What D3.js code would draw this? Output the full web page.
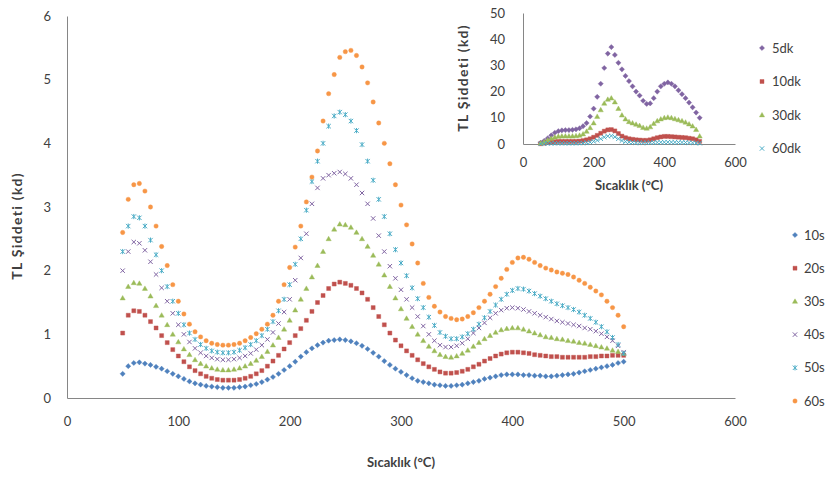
<!DOCTYPE html>
<html>
<head>
<meta charset="utf-8">
<script src="https://cdn.jsdelivr.net/npm/d3@7"></script>
<style>
  body { margin: 0; background: #fff; }
  text { font-family: Lato, "Open Sans", sans-serif; fill: #404040; }
  .axis text { font-size: 13px; }
  .axis path { stroke: #868686; }
  .title { font-size: 13px; font-weight: bold; }
  .ytitle { font-size: 14px; font-weight: bold; letter-spacing: 1.3px; }
  .legend text { font-size: 13px; }
</style>
</head>
<body>
<svg id="chart" width="826" height="479"></svg>
<script>
// temperature steps of the main chart (°C)
var temps = d3.range(50, 501, 5);

var s10 = [0.38,0.5,0.55,0.56,0.54,0.52,0.49,0.46,0.42,0.38,
  0.34,0.3,0.26,0.23,0.21,0.19,0.18,0.17,0.16,0.16,
  0.16,0.17,0.18,0.2,0.22,0.25,0.29,0.33,0.38,0.44,
  0.5,0.57,0.65,0.72,0.78,0.83,0.87,0.9,0.91,0.92,
  0.91,0.89,0.86,0.82,0.77,0.71,0.65,0.58,0.52,0.46,
  0.41,0.36,0.31,0.27,0.25,0.23,0.21,0.2,0.19,0.19,
  0.2,0.21,0.23,0.25,0.27,0.3,0.32,0.34,0.36,0.37,
  0.37,0.37,0.36,0.36,0.35,0.35,0.34,0.34,0.35,0.36,
  0.37,0.38,0.4,0.42,0.44,0.46,0.48,0.5,0.52,0.55,0.57];
var s20 = [1.02,1.3,1.37,1.36,1.3,1.2,1.1,0.98,0.87,0.76,
  0.66,0.57,0.49,0.43,0.38,0.34,0.31,0.29,0.28,0.28,
  0.28,0.29,0.31,0.34,0.38,0.43,0.5,0.58,0.67,0.77,
  0.87,0.98,1.09,1.22,1.36,1.5,1.61,1.72,1.79,1.82,
  1.8,1.77,1.72,1.65,1.55,1.42,1.28,1.15,1.02,0.91,
  0.82,0.74,0.67,0.6,0.54,0.49,0.45,0.41,0.39,0.39,
  0.4,0.42,0.45,0.49,0.53,0.58,0.62,0.66,0.69,0.71,
  0.72,0.72,0.71,0.7,0.68,0.67,0.66,0.65,0.65,0.64,
  0.64,0.64,0.64,0.64,0.65,0.65,0.66,0.66,0.67,0.67,0.67];
var s30 = [1.57,1.75,1.81,1.8,1.72,1.6,1.45,1.3,1.15,1.0,
  0.88,0.77,0.68,0.6,0.54,0.5,0.47,0.45,0.44,0.44,
  0.45,0.47,0.5,0.54,0.59,0.65,0.73,0.83,0.95,1.08,
  1.22,1.38,1.55,1.72,1.9,2.08,2.3,2.5,2.65,2.73,
  2.72,2.68,2.6,2.5,2.38,2.24,2.1,1.93,1.75,1.57,
  1.4,1.25,1.12,1.0,0.9,0.81,0.74,0.68,0.65,0.64,
  0.66,0.7,0.75,0.81,0.87,0.93,0.98,1.03,1.07,1.09,
  1.1,1.1,1.08,1.05,1.02,0.99,0.96,0.95,0.93,0.92,
  0.9,0.89,0.87,0.86,0.84,0.82,0.8,0.78,0.75,0.73,0.7];
var s40 = [2.0,2.3,2.45,2.43,2.32,2.14,1.94,1.73,1.52,1.33,
  1.15,1.0,0.88,0.78,0.71,0.66,0.63,0.61,0.6,0.6,
  0.61,0.63,0.66,0.7,0.76,0.83,0.92,1.03,1.17,1.35,
  1.55,1.85,2.2,2.58,3.05,3.3,3.45,3.5,3.53,3.55,
  3.52,3.45,3.35,3.22,3.05,2.82,2.55,2.3,2.07,1.88,
  1.7,1.55,1.42,1.28,1.13,1.0,0.9,0.83,0.8,0.8,
  0.82,0.86,0.93,1.02,1.1,1.18,1.26,1.33,1.38,1.41,
  1.42,1.41,1.39,1.36,1.33,1.3,1.27,1.24,1.21,1.19,
  1.17,1.15,1.13,1.1,1.08,1.05,1.01,0.96,0.9,0.82,0.72];
var s50 = [2.3,2.7,2.85,2.83,2.7,2.48,2.25,2.0,1.75,1.52,
  1.33,1.15,1.02,0.92,0.84,0.78,0.74,0.72,0.71,0.71,
  0.72,0.75,0.79,0.84,0.9,0.98,1.08,1.2,1.37,1.55,
  1.78,2.1,2.5,2.95,3.4,3.72,4.0,4.27,4.43,4.49,
  4.45,4.35,4.2,3.98,3.72,3.42,3.12,2.85,2.58,2.33,
  2.12,1.92,1.73,1.56,1.42,1.27,1.14,1.03,0.97,0.93,
  0.93,0.96,1.01,1.08,1.16,1.26,1.36,1.46,1.55,1.63,
  1.69,1.72,1.71,1.68,1.64,1.6,1.56,1.52,1.48,1.45,
  1.42,1.39,1.35,1.3,1.25,1.19,1.12,1.04,0.95,0.84,0.7];
var s60 = [2.6,3.12,3.35,3.37,3.25,3.0,2.7,2.38,2.08,1.78,
  1.52,1.32,1.16,1.04,0.96,0.9,0.86,0.84,0.83,0.83,
  0.84,0.86,0.9,0.95,1.01,1.08,1.16,1.3,1.52,1.78,
  2.05,2.37,2.7,3.08,3.47,3.88,4.35,4.78,5.08,5.35,
  5.44,5.46,5.38,5.2,4.95,4.65,4.32,4.0,3.68,3.35,
  3.03,2.72,2.42,2.12,1.8,1.58,1.44,1.35,1.28,1.25,
  1.23,1.24,1.28,1.34,1.42,1.52,1.63,1.75,1.88,2.02,
  2.13,2.2,2.21,2.18,2.13,2.08,2.04,2.01,1.98,1.96,
  1.94,1.9,1.85,1.8,1.74,1.68,1.62,1.52,1.42,1.3,1.12];

var mainNames = ['10s', '20s', '30s', '40s', '50s', '60s'];
var xTicks = [0, 100, 200, 300, 400, 500, 600];
var yTicks = [0, 1, 2, 3, 4, 5, 6];

// inset chart, 10 °C steps
var insetTemps = d3.range(50, 501, 10);
var dk5 = [0.5,1.2,2.2,3.3,4.3,4.9,5.2,5.3,5.3,5.4,5.6,6.0,6.8,8.0,10.5,13.5,18,23,29,34.5,
  37,34,31,28.5,26,24,22,20,18.5,16.5,15.3,15.5,17.5,20,22,23,23.5,23,22,20.5,19,17.5,15.8,14,12,10];
var dk10 = [0.1,0.3,0.6,0.8,0.9,1.0,1.0,1.0,1.0,1.0,1.0,1.1,1.3,1.6,2.0,2.6,3.3,4.1,4.9,5.4,
  5.5,5.0,4.0,3.0,2.4,2.0,1.8,1.6,1.5,1.4,1.4,1.6,2.0,2.4,2.7,2.9,2.9,2.8,2.7,2.6,2.5,2.4,2.2,2.0,1.6,1.0];
var dk30 = [0.3,0.8,1.5,2.1,2.6,2.9,3.0,3.0,3.0,3.0,3.1,3.3,3.8,4.8,6.2,8.0,10.5,13,15.5,17,
  17.5,16,13.5,11,9.5,8.5,8.0,7.5,7.0,6.3,6.0,6.5,7.8,8.8,9.5,10,10.2,10,9.6,9.2,8.8,8.3,7.6,6.8,5.5,3];
var dk60 = [0.05,0.1,0.2,0.25,0.3,0.3,0.3,0.3,0.3,0.3,0.3,0.35,0.4,0.5,0.7,1.0,1.4,2.0,2.6,3.0,
  3.1,2.7,2.0,1.3,0.9,0.7,0.6,0.5,0.5,0.5,0.5,0.5,0.55,0.6,0.65,0.7,0.7,0.7,0.65,0.6,0.6,0.55,0.5,0.45,0.4,0.3];

var insetNames = ['5dk', '10dk', '30dk', '60dk'];
var insetXTicks = [0, 200, 400, 600];
var insetYTicks = [0, 10, 20, 30, 40, 50];

/* marker shapes, Excel style */
var markers = {
  diamond:  { d: 'M0,-2.6L2.6,0L0,2.6L-2.6,0Z', fill: true },
  square:   { d: 'M-2,-2H2V2H-2Z', fill: true },
  triangle: { d: 'M0,-2.6L2.6,1.9L-2.6,1.9Z', fill: true },
  cross:    { d: 'M-2.2,-2.2L2.2,2.2M-2.2,2.2L2.2,-2.2', fill: false },
  star:     { d: 'M-2.2,-2.2L2.2,2.2M-2.2,2.2L2.2,-2.2M0,-2.6L0,2.6', fill: false },
  circle:   { d: 'M2.2,0A2.2,2.2 0 1 1 -2.2,0A2.2,2.2 0 1 1 2.2,0Z', fill: true }
};

var mainSeries = [
  { name: mainNames[0], values: s10, color: '#4F81BD', shape: 'diamond' },
  { name: mainNames[1], values: s20, color: '#C0504D', shape: 'square' },
  { name: mainNames[2], values: s30, color: '#9BBB59', shape: 'triangle' },
  { name: mainNames[3], values: s40, color: '#8064A2', shape: 'cross' },
  { name: mainNames[4], values: s50, color: '#4BACC6', shape: 'star' },
  { name: mainNames[5], values: s60, color: '#F79646', shape: 'circle' }
];

var insetSeries = [
  { name: insetNames[0], values: dk5, color: '#8064A2', shape: 'diamond' },
  { name: insetNames[1], values: dk10, color: '#C0504D', shape: 'square' },
  { name: insetNames[2], values: dk30, color: '#9BBB59', shape: 'triangle' },
  { name: insetNames[3], values: dk60, color: '#4BACC6', shape: 'cross' }
];

var svg = d3.select('#chart');

var drawMarker = function(sel, shape, color) {
  var m = markers[shape];
  sel.attr('d', m.d)
    .style('fill', m.fill ? color : 'none')
    .style('stroke', color)
    .style('stroke-width', m.fill ? 0.4 : 1);
};

/* MAIN CHART */

var x = d3.scaleLinear().domain([0, 600]).range([67, 735]);
var y = d3.scaleLinear().domain([0, 6]).range([398, 16]);

svg.append('g')
  .attr('class', 'axis')
  .attr('transform', 'translate(0,' + y(0) + ')')
  .call(d3.axisBottom(x).tickValues(xTicks).tickSize(0).tickPadding(19).tickSizeOuter(0));

svg.append('g')
  .attr('class', 'axis')
  .attr('transform', 'translate(' + x(0) + ',0)')
  .call(d3.axisLeft(y).tickValues(yTicks).tickFormat(d3.format('d'))
    .tickSize(0).tickPadding(16).tickSizeOuter(0));

mainSeries.forEach(function(s) {
  svg.append('g')
    .selectAll('path')
    .data(s.values)
    .enter()
    .append('path')
    .attr('transform', (d, i) => 'translate(' + x(temps[i]) + ',' + y(d) + ')')
    .call(drawMarker, s.shape, s.color);
});

svg.append('text')
  .attr('class', 'title')
  .attr('x', (x(0) + x(600)) / 2)
  .attr('y', 467)
  .attr('text-anchor', 'middle')
  .text('Sıcaklık (°C)');

svg.append('text')
  .attr('class', 'ytitle')
  .attr('transform', 'translate(22,226) rotate(-90)')
  .attr('text-anchor', 'middle')
  .text('TL Şiddeti (kd)');

var legend = svg.append('g').attr('class', 'legend')
  .selectAll('g')
  .data(mainSeries)
  .enter()
  .append('g')
  .attr('transform', (d, i) => 'translate(795,' + (235 + i * 33.2) + ')');

legend.append('path')
  .each(function(d) { d3.select(this).call(drawMarker, d.shape, d.color); });

legend.append('text')
  .attr('x', 9)
  .attr('dy', '0.35em')
  .text(d => d.name);

/* INSET CHART */

var ix = d3.scaleLinear().domain([0, 600]).range([523, 735]);
var iy = d3.scaleLinear().domain([0, 50]).range([144, 13]);

svg.append('g')
  .attr('class', 'axis')
  .attr('transform', 'translate(0,' + iy(0) + ')')
  .call(d3.axisBottom(ix).tickValues(insetXTicks).tickSize(0).tickPadding(14).tickSizeOuter(0));

svg.append('g')
  .attr('class', 'axis')
  .attr('transform', 'translate(' + ix(0) + ',0)')
  .call(d3.axisLeft(iy).tickValues(insetYTicks).tickSize(0).tickPadding(18).tickSizeOuter(0));

insetSeries.forEach(function(s) {
  svg.append('g')
    .selectAll('path')
    .data(s.values)
    .enter()
    .append('path')
    .attr('transform', (d, i) => 'translate(' + ix(insetTemps[i]) + ',' + iy(d) + ')')
    .call(drawMarker, s.shape, s.color);
});

svg.append('text')
  .attr('class', 'title')
  .attr('x', (ix(0) + ix(600)) / 2)
  .attr('y', 190)
  .attr('text-anchor', 'middle')
  .text('Sıcaklık (°C)');

svg.append('text')
  .attr('class', 'ytitle')
  .attr('transform', 'translate(468,78) rotate(-90)')
  .attr('text-anchor', 'middle')
  .text('TL Şiddeti (kd)');

var insetLegend = svg.append('g').attr('class', 'legend')
  .selectAll('g')
  .data(insetSeries)
  .enter()
  .append('g')
  .attr('transform', (d, i) => 'translate(762,' + (48 + i * 33.5) + ')');

insetLegend.append('path')
  .each(function(d) { d3.select(this).call(drawMarker, d.shape, d.color); });

insetLegend.append('text')
  .attr('x', 10)
  .attr('dy', '0.35em')
  .text(d => d.name);
</script>
</body>
</html>
